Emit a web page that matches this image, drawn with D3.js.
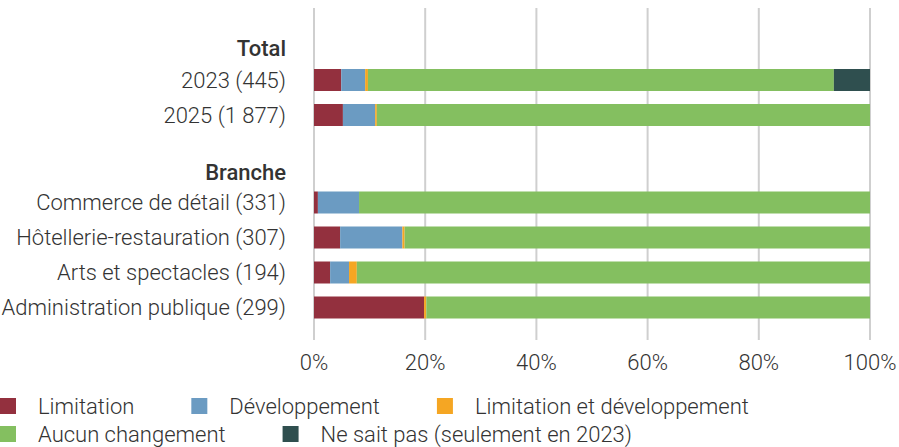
<!DOCTYPE html>
<html>
<head>
<meta charset="utf-8">
<script src="https://cdn.jsdelivr.net/npm/d3@7"></script>
<style>
  body { margin: 0; background: #fff; }
  text { font-family: Roboto, "Liberation Sans", sans-serif; font-weight: 300; fill: #333; }
</style>
</head>
<body>
<div id="chart"></div>
<script>
// categories (bars), headers and series, shares in %
const categories = [
  "2023 (445)", "2025 (1 877)",
  "Commerce de détail (331)", "Hôtellerie-restauration (307)",
  "Arts et spectacles (194)", "Administration publique (299)"
]
const rowIndex = [0, 1, 3.5, 4.5, 5.5, 6.5] // slot of each bar, gap before "Branche"
const headers = ["Total", "Branche"]
const headerIndex = [-0.9, 2.65]

const seriesNames = ["Limitation", "Développement", "Limitation et développement", "Aucun changement", "Ne sait pas (seulement en 2023)"]
const colors = ["#93303e", "#6b9bc2", "#f5a623", "#84bf60", "#2f4f4f"]

const limitation    = [4.9, 5.2, 0.7, 4.7, 2.9, 19.8]
const developpement = [4.3, 5.8, 7.4, 11.2, 3.4, 0.0]
const limEtDev      = [0.5, 0.3, 0.0, 0.4, 1.4, 0.4]
const aucun         = [83.8, 88.7, 91.9, 83.7, 92.3, 79.8]
const nsp           = [6.5, 0.0, 0.0, 0.0, 0.0, 0.0]

const xTicks = [0, 20, 40, 60, 80, 100]

const width = 899, height = 447
const margin = {top: 8, right: 29, bottom: 107, left: 314}
const fontSize = "22px"

const svg = d3.select("#chart").append("svg")
  .attr("width", width).attr("height", height)

const x = d3.scaleLinear().domain([0, 100]).range([margin.left, width - margin.right])
const y = d3.scaleLinear().domain([0, 1]).range([80, 115]) // row centers
const barH = 22

// gridlines
svg.append("g").selectAll("line").data(xTicks).join("line")
  .attr("x1", d => x(d)).attr("x2", d => x(d))
  .attr("y1", margin.top).attr("y2", height - margin.bottom)
  .attr("stroke", "#cfcfcf").attr("stroke-width", 2)

// stacked bars
const values = [limitation, developpement, limEtDev, aucun, nsp]
const table = categories.map((c, i) => {
  const row = {cat: c, idx: rowIndex[i]}
  seriesNames.forEach((s, j) => row[s] = values[j][i])
  return row
})
const stacked = d3.stack().keys(seriesNames)(table)

svg.append("g").selectAll("g").data(stacked).join("g")
  .attr("fill", (d, i) => colors[i])
  .selectAll("rect").data(d => d).join("rect")
    .attr("x", d => x(d[0]))
    .attr("width", d => x(d[1]) - x(d[0]))
    .attr("y", d => y(d.data.idx) - barH / 2)
    .attr("height", barH)

// category labels
svg.append("g").selectAll("text").data(table).join("text")
  .attr("x", 286).attr("y", d => y(d.idx))
  .attr("dy", "0.35em").attr("text-anchor", "end")
  .style("font-size", fontSize)
  .text(d => d.cat)

svg.append("g").selectAll("text").data(headers).join("text")
  .attr("x", 286).attr("y", (d, i) => y(headerIndex[i]))
  .attr("dy", "0.35em").attr("text-anchor", "end")
  .style("font-size", fontSize).style("font-weight", 500)
  .text(d => d)

// x axis labels
svg.append("g").selectAll("text").data(xTicks).join("text")
  .attr("x", d => x(d)).attr("y", 370)
  .attr("text-anchor", "middle")
  .style("font-size", fontSize)
  .text(d => d + "%")

// legend, flowing layout
const legend = svg.append("g")
let lx = 0, ly = 406
seriesNames.forEach((s, i) => {
  const g = legend.append("g")
  const t = g.append("text").attr("x", 38).attr("y", 0).attr("dy", "0.35em")
    .style("font-size", fontSize).text(s)
  const w = 38 + t.node().getComputedTextLength()
  if (lx > 0 && lx + w > width) { lx = 0; ly += 28 }
  g.attr("transform", `translate(${lx},${ly})`)
  g.append("rect").attr("x", 0).attr("y", -8).attr("width", 16).attr("height", 16).attr("fill", colors[i])
  lx += w + 57
})
</script>
</body>
</html>
